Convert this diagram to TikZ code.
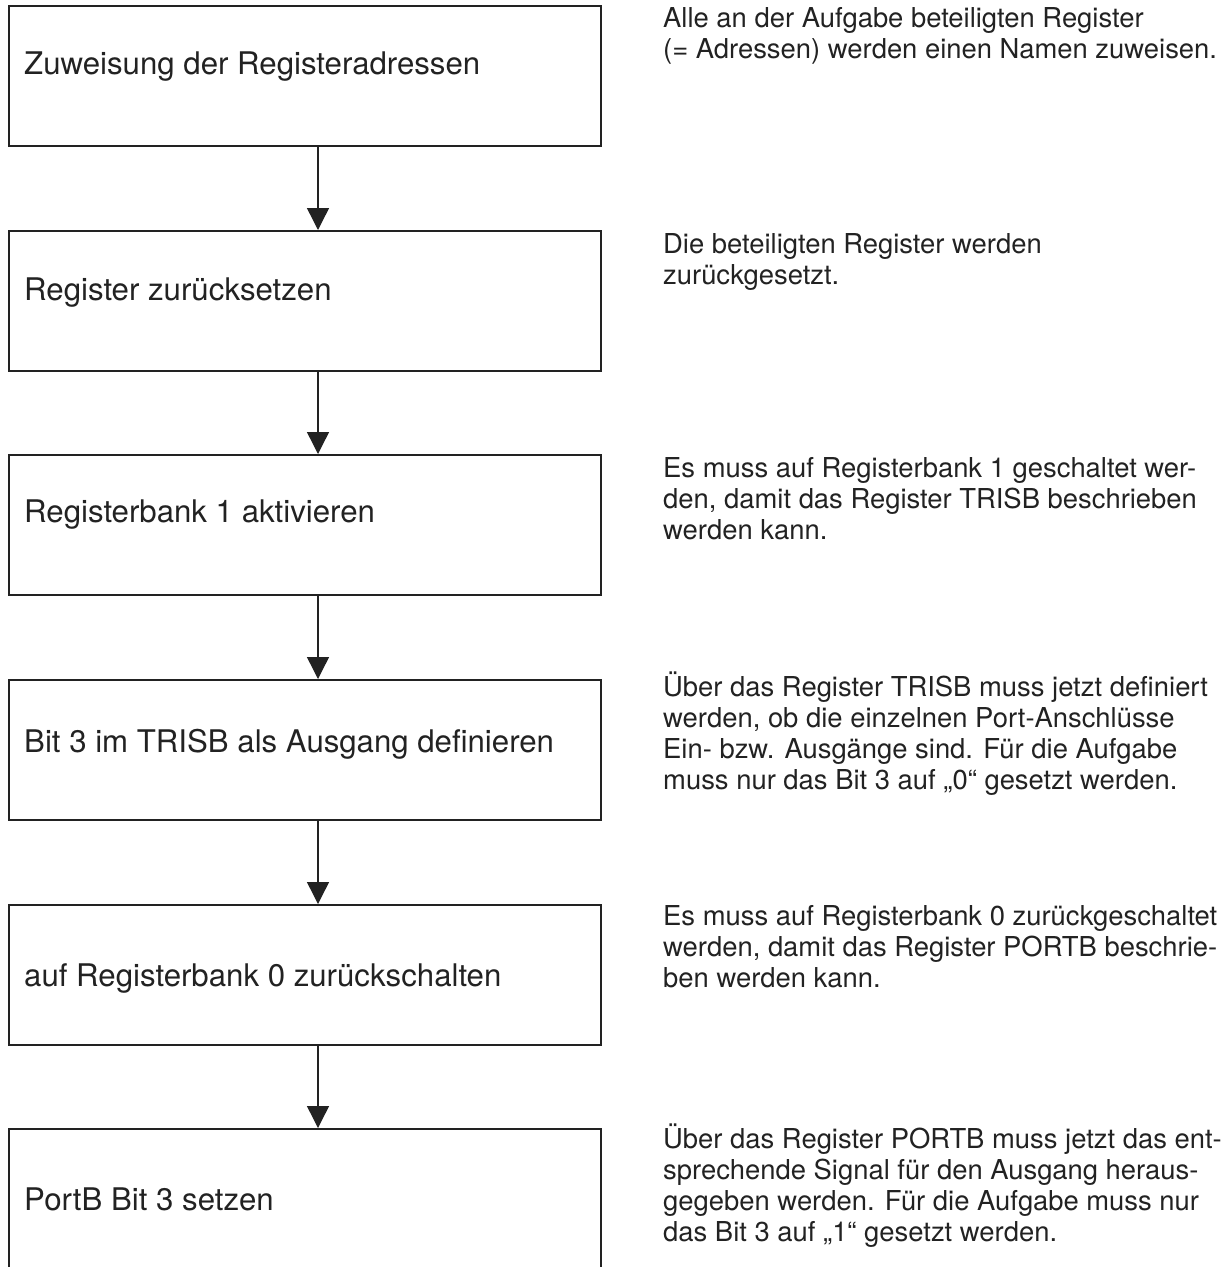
\documentclass[tikz,border=0pt]{standalone}
\usepackage{fontspec}
\setmainfont{TeX Gyre Heros}
\usetikzlibrary{arrows.meta}
\definecolor{ink}{HTML}{222222}
\tikzset{
  stepbox/.style={draw=ink, line width=1.8pt, minimum width=592pt, minimum height=140pt, inner sep=0pt, anchor=north west},
  boxtext/.style={anchor=base west, inner sep=0pt, text=ink, font=\fontsize{31.2}{36}\selectfont},
  note/.style={anchor=base west, inner sep=0pt, text=ink, align=left, font=\fontsize{27.4}{31}\selectfont},
  flow/.style={draw=ink, line width=1.4pt, -{Triangle[width=22pt,length=22pt]}}
}
\begin{document}
\begin{tikzpicture}[x=1pt,y=-1pt]
\useasboundingbox (0,0) rectangle (1222,1267);
\coordinate (ax) at (318,0);
\node[stepbox] (b1) at (8,5) {};
\node[stepbox] (b2) at (8,230) {};
\node[stepbox] (b3) at (8,454) {};
\node[stepbox] (b4) at (8,679) {};
\node[stepbox] (b5) at (8,904) {};
\node[stepbox] (b6) at (8,1128) {};
\node[boxtext] (t1) at (24,74) {Zuweisung der Registeradressen};
\node[boxtext] (t2) at (24,300) {Register zurücksetzen};
\node[boxtext] (t3) at (24,522) {Registerbank 1 aktivieren};
\node[boxtext] (t4) at (24,752) {Bit 3 im TRISB als Ausgang definieren};
\node[boxtext] (t5) at (24,986) {auf Registerbank 0 zurückschalten};
\node[boxtext] (t6) at (24,1210) {PortB Bit 3 setzen};
\draw[flow] (b1.south -| ax) -- (b2.north -| ax);
\draw[flow] (b2.south -| ax) -- (b3.north -| ax);
\draw[flow] (b3.south -| ax) -- (b4.north -| ax);
\draw[flow] (b4.south -| ax) -- (b5.north -| ax);
\draw[flow] (b5.south -| ax) -- (b6.north -| ax);
% base anchor = baseline of the last line
\node[note] (n1) at (663,58) {Alle an der Aufgabe beteiligten Register\\(= Adressen) werden einen Namen zuweisen.};
\node[note] (n2) at (663,284) {Die beteiligten Register werden\\zurückgesetzt.};
\node[note] (n3) at (663,539) {Es muss auf Registerbank 1 geschaltet wer-\\den, damit das Register TRISB beschrieben\\werden kann.};
\node[note] (n4) at (663,789) {Über das Register TRISB muss jetzt definiert\\werden, ob die einzelnen Port-Anschlüsse\\Ein- bzw. Ausgänge sind. Für die Aufgabe\\muss nur das Bit 3 auf „0“ gesetzt werden.};
\node[note] (n5) at (663,987) {Es muss auf Registerbank 0 zurückgeschaltet\\werden, damit das Register PORTB beschrie-\\ben werden kann.};
\node[note] (n6) at (663,1241) {Über das Register PORTB muss jetzt das ent-\\sprechende Signal für den Ausgang heraus-\\gegeben werden. Für die Aufgabe muss nur\\das Bit 3 auf „1“ gesetzt werden.};
\end{tikzpicture}
\end{document}
